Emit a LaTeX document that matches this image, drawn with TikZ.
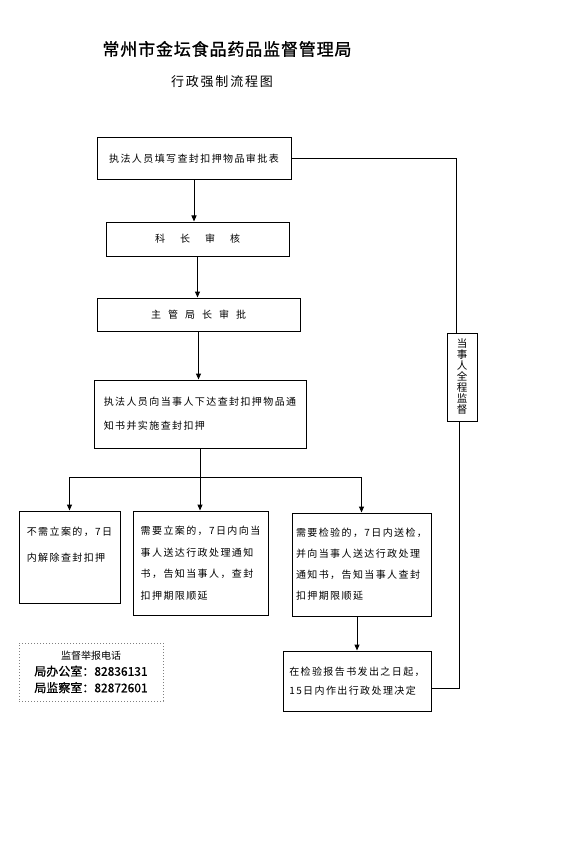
\documentclass[tikz,border=0pt]{standalone}
\usepackage{fontspec}
\setmainfont{Noto Sans CJK SC}
\newfontfamily\cjkwide[LetterSpace=14]{Noto Sans CJK SC}
\newfontfamily\cjktitle[LetterSpace=5,FakeBold=1]{Noto Sans CJK SC}
\newfontfamily\cjkbold[FakeBold=0.8]{Noto Sans CJK SC}
\usepackage{tikz}
\usetikzlibrary{positioning,arrows.meta}
\tikzset{
  node-box/.style={draw=black,line width=1pt,inner sep=0pt,align=left,
    font=\cjkwide\fontsize{10}{22}\selectfont},
  node-tag/.style={draw=black,line width=1pt,inner sep=0pt,align=center,
    font=\fontsize{10.5}{11}\selectfont},
  node-phone/.style={draw=gray,dotted,line width=1pt,inner sep=0pt,align=center,
    font=\cjkbold\fontsize{12}{16.5}\selectfont},
  arrow/.style={-{Triangle[length=6pt,width=5pt]},line width=1pt,draw=black},
  line/.style={line width=1pt,draw=black},
}

\begin{document}
\begin{tikzpicture}[x=1pt,y=-1pt]
  \useasboundingbox (0,0) rectangle (582,850);
  % titles
  \node[font=\cjktitle\fontsize{17}{20}\selectfont] (title) at (227,49)
    {常州市金坛食品药品监督管理局};
  \node[font=\cjkwide\fontsize{13}{16}\selectfont] (subtitle) at (222,82)
    {行政强制流程图};
  % main column
  \node[node-box,minimum width=194pt,minimum height=42pt] (apply) at (194,159)
    {执法人员填写查封扣押物品审批表};
  \node[node-box,minimum width=183pt,minimum height=34pt,font=\fontsize{10}{12}\selectfont]
    (chief) at (197.5,239) {科\hspace{15pt}长\hspace{15pt}审\hspace{15pt}核};
  \node[node-box,minimum width=203pt,minimum height=33pt,font=\fontsize{10}{12}\selectfont]
    (director) at (198.5,314.5)
    {主\hspace{7pt}管\hspace{7pt}局\hspace{7pt}长\hspace{7pt}审\hspace{7pt}批};
  \node[node-box,minimum width=212pt,minimum height=68pt,
    font=\cjkwide\fontsize{10}{24}\selectfont] (seize) at (200,414)
    {执法人员向当事人下达查封扣押物品通\\知书并实施查封扣押};
  % three outcomes
  \node[node-box,minimum width=101pt,minimum height=92pt,
    font=\cjkwide\fontsize{10}{26}\selectfont] (release) at (69.5,557)
    {不需立案的，7日\\内解除查封扣押\\\mbox{}};
  \node[node-box,minimum width=135pt,minimum height=104pt,
    font=\cjkwide\fontsize{10}{21.5}\selectfont] (case) at (200.5,563)
    {需要立案的，7日内向当\\事人送达行政处理通知\\书，告知当事人，查封\\扣押期限顺延};
  \node[node-box,minimum width=139pt,minimum height=103pt,
    font=\cjkwide\fontsize{10}{21}\selectfont] (inspect) at (361.5,564.5)
    {需要检验的，7日内送检，\\并向当事人送达行政处理\\通知书，告知当事人查封\\扣押期限顺延};
  \node[node-box,minimum width=148pt,minimum height=60pt,
    font=\cjkwide\fontsize{10}{19}\selectfont] (decide) at (357,681)
    {在检验报告书发出之日起，\\15日内作出行政处理决定};
  % side note
  \node[node-tag,minimum width=30pt,minimum height=88pt] (watch) at (462,377)
    {当\\事\\人\\全\\程\\监\\督};
  \node[node-phone,minimum width=144pt,minimum height=58pt] (phone) at (91,672)
    {{\setmainfont{Noto Sans CJK SC}\fontsize{10}{16.5}\selectfont 监督举报电话}\\
     局办公室：82836131\\
     局监察室：82872601};
  % connectors
  \draw[arrow] (apply.south) -- (apply.south |- chief.north);
  \draw[arrow] (chief.south) -- (chief.south |- director.north);
  \draw[arrow] (director.south) -- (director.south |- seize.north);
  \coordinate (split) at ([yshift=-29pt]seize.south);
  \draw[line] (seize.south) -- (split);
  \draw[arrow] (split) -| (release.north);
  \draw[arrow] (split) -- (split |- case.north);
  \draw[arrow] (split) -| (inspect.north);
  \draw[arrow] (decide.north |- inspect.south) -- (decide.north);
  \draw[line] (apply.east) -| ([xshift=-6pt]watch.north);
  \draw[line] ([xshift=-3pt]watch.south) |- ([yshift=-7pt]decide.east);
\end{tikzpicture}
\end{document}
